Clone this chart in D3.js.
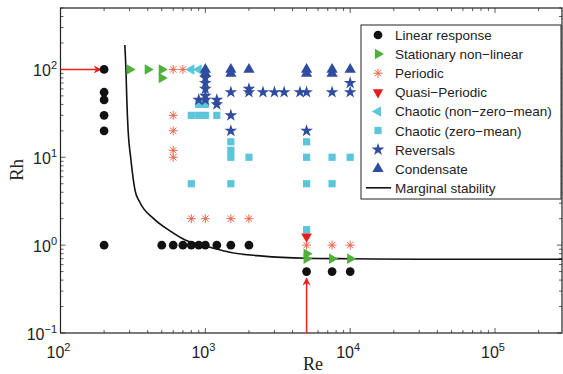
<!DOCTYPE html>
<html>
<head>
<meta charset="utf-8">
<script src="https://cdn.jsdelivr.net/npm/d3@7"></script>
<style>
  body { margin: 0; background: #fff; }
  svg { display: block; }
</style>
</head>
<body>
<div id="chart"></div>
<script>
// points are [Re, Rh]
const linearResponse = [[200,100],[200,55],[200,45],[200,30],[200,20],[200,1],[500,1],[600,1],[700,1],[800,1],[900,1],[1000,1],[1200,1],[1500,1],[2000,1],[5000,0.5],[7500,0.5],[10000,0.5]];
const stationary = [[300,100],[400,100],[500,100],[500,80],[5000,0.8],[5000,0.7],[7500,0.7],[10000,0.7]];
const periodic = [[600,100],[700,100],[600,30],[600,20],[600,12],[600,10],[800,2],[1000,2],[1500,2],[2000,2],[5000,1.3],[5000,1],[7500,1],[10000,1]];
const quasiPeriodic = [[5000,1.25]];
const chaoticNonZero = [[800,100],[900,100]];
const chaoticZero = [[800,30],[900,30],[1000,30],[1200,30],[900,40],[1000,40],[1500,15],[1500,12],[1500,10],[2000,10],[5000,15],[5000,10],[7500,10],[10000,10],[800,5],[1500,5],[5000,5],[7500,5],[5000,1.5]];
const reversals = [[1000,80],[1000,70],[1000,60],[1000,50],[900,45],[1000,45],[1200,45],[1200,40],[1500,55],[1500,30],[1500,20],[2000,60],[2000,55],[2500,55],[3000,55],[3500,55],[4500,55],[5000,55],[5000,20],[7500,55],[10000,55],[10000,70]];
const condensate = [[1000,100],[1000,90],[1500,100],[1500,90],[2000,100],[5000,100],[5000,90],[7500,100],[7500,90],[10000,100]];
const marginal = [[278,190],[283,100],[287,45],[293,20],[305,10],[327,4.2],[352,3.1],[440,2],[570,1.45],[720,1.15],[960,1.0],[1120,0.93],[1470,0.83],[2500,0.75],[5000,0.71],[10000,0.70],[30000,0.69],[290000,0.69]];
const arrows = [[[100,100],[190,100]], [[5000,0.1],[5000,0.42]]];

const xTicks = [1e2, 1e3, 1e4, 1e5];
const yTicks = [1e-1, 1e0, 1e1, 1e2];

const width = 563, height = 374;
const margin = { top: 8, right: 1, bottom: 41, left: 60.5 };

const svg = d3.select("#chart").append("svg")
    .attr("width", width)
    .attr("height", height)
    .style("font-family", "'Liberation Sans', Arial, sans-serif");

const x = d3.scaleLog().domain([100, 2.9e5]).range([margin.left, width - margin.right]);
const y = d3.scaleLog().domain([0.1, 500]).range([height - margin.bottom, margin.top]);

const x0 = x.range()[0], x1 = x.range()[1], y0 = y.range()[0], y1 = y.range()[1];

// minor + major ticks, matlab style pointing inward on all sides
const xAll = x.ticks(), yAll = y.ticks();
const tickG = svg.append("g").attr("stroke", "#333").attr("stroke-width", 0.8);
xAll.forEach(v => {
  const len = xTicks.includes(v) ? 5 : 3;
  tickG.append("line").attr("x1", x(v)).attr("x2", x(v)).attr("y1", y0).attr("y2", y0 - len);
  tickG.append("line").attr("x1", x(v)).attr("x2", x(v)).attr("y1", y1).attr("y2", y1 + len);
});
yAll.forEach(v => {
  const len = yTicks.includes(v) ? 5 : 3;
  tickG.append("line").attr("y1", y(v)).attr("y2", y(v)).attr("x1", x0).attr("x2", x0 + len);
  tickG.append("line").attr("y1", y(v)).attr("y2", y(v)).attr("x1", x1).attr("x2", x1 - len);
});

svg.append("rect")
    .attr("x", x0).attr("y", y1)
    .attr("width", x1 - x0).attr("height", y0 - y1)
    .attr("fill", "none").attr("stroke", "#222").attr("stroke-width", 1.2);

// tick labels 10^n
xTicks.forEach(v => {
  const t = svg.append("text").attr("x", x(v) - 2).attr("y", 358)
      .attr("text-anchor", "middle").attr("font-size", 16).attr("fill", "#222");
  t.append("tspan").text("10");
  t.append("tspan").attr("font-size", 11).attr("dy", -7).text(Math.round(Math.log10(v)));
});
yTicks.forEach(v => {
  const t = svg.append("text").attr("x", 57).attr("y", y(v) + 7)
      .attr("text-anchor", "end").attr("font-size", 16).attr("fill", "#222");
  t.append("tspan").text("10");
  const e = Math.round(Math.log10(v));
  t.append("tspan").attr("font-size", 11).attr("dy", -7).text(e < 0 ? "−" + (-e) : e);
});

svg.append("text").attr("x", 313).attr("y", 370).attr("text-anchor", "middle")
    .attr("font-family", "'Liberation Serif', 'Times New Roman', serif")
    .attr("font-size", 18).attr("fill", "#222").text("Re");
svg.append("text").attr("transform", "translate(23,170) rotate(-90)").attr("text-anchor", "middle")
    .attr("font-family", "'Liberation Serif', 'Times New Roman', serif")
    .attr("font-size", 19).attr("fill", "#222").text("Rh");

// arrows
svg.append("defs").append("marker")
    .attr("id", "head").attr("viewBox", "0 0 10 10")
    .attr("refX", 9).attr("refY", 5)
    .attr("markerWidth", 10).attr("markerHeight", 8)
    .attr("markerUnits", "userSpaceOnUse")
    .attr("orient", "auto")
  .append("path").attr("d", "M0,0 L10,5 L0,10 L3,5 Z").attr("fill", "#e8201a");

const plot = svg.append("g");

arrows.forEach(a => {
  plot.append("line")
      .attr("x1", x(a[0][0])).attr("y1", y(a[0][1]))
      .attr("x2", x(a[1][0])).attr("y2", y(a[1][1]))
      .attr("stroke", "#e8201a").attr("stroke-width", 1.5)
      .attr("marker-end", "url(#head)");
});

// marginal stability curve
plot.append("path")
    .datum(marginal)
    .attr("fill", "none").attr("stroke", "#111").attr("stroke-width", 1.6)
    .attr("d", d3.line().x(d => x(d[0])).y(d => y(d[1])).curve(d3.curveMonotoneX));

const asteriskPath = r => {
  const k = r * Math.SQRT1_2;
  return `M${-r},0L${r},0M0,${-r}L0,${r}M${-k},${-k}L${k},${k}M${-k},${k}L${k},${-k}`;
};

const series = [
  { name: "Linear response", data: linearResponse, type: d3.symbolCircle, size: 60, color: "#111111", rot: 0 },
  { name: "Stationary non−linear", data: stationary, type: d3.symbolTriangle, size: 48, color: "#4fb03a", rot: 90 },
  { name: "Periodic", data: periodic, type: "asterisk", size: 4.5, color: "#f26a4f", rot: 0 },
  { name: "Quasi−Periodic", data: quasiPeriodic, type: d3.symbolTriangle, size: 48, color: "#e41d1d", rot: 180 },
  { name: "Chaotic (non−zero−mean)", data: chaoticNonZero, type: d3.symbolTriangle, size: 48, color: "#5cc5da", rot: -90 },
  { name: "Chaotic (zero−mean)", data: chaoticZero, type: d3.symbolSquare, size: 52, color: "#5cc5da", rot: 0 },
  { name: "Reversals", data: reversals, type: d3.symbolStar, size: 50, color: "#2f4c9f", rot: 0 },
  { name: "Condensate", data: condensate, type: d3.symbolTriangle, size: 55, color: "#2f4c9f", rot: 0 }
];

function drawMarker(g, s) {
  if (s.type === "asterisk") {
    g.append("path").attr("d", asteriskPath(s.size))
      .attr("stroke", s.color).attr("stroke-width", 1).attr("fill", "none");
    g.append("circle").attr("r", 1.2).attr("fill", s.color);
  } else {
    g.append("path").attr("d", d3.symbol().type(s.type).size(s.size)())
      .attr("transform", `rotate(${s.rot})`)
      .attr("fill", s.color);
  }
}

series.forEach(s => {
  plot.selectAll(null)
    .data(s.data)
    .enter()
    .append("g")
    .attr("transform", d => `translate(${x(d[0])},${y(d[1])})`)
    .each(function () { drawMarker(d3.select(this), s); });
});

// legend
const lg = svg.append("g");
lg.append("rect").attr("x", 361).attr("y", 25).attr("width", 200).attr("height", 174)
    .attr("fill", "#fff").attr("stroke", "#222").attr("stroke-width", 1);

const rowY = i => 35 + i * 19.1;
series.forEach((s, i) => {
  const g = lg.append("g").attr("transform", `translate(378,${rowY(i)})`);
  drawMarker(g, s);
  lg.append("text").attr("x", 395).attr("y", rowY(i) + 5)
      .attr("font-size", 13.5).attr("fill", "#222").text(s.name);
});
const lastY = rowY(series.length);
lg.append("line").attr("x1", 366).attr("x2", 391).attr("y1", lastY).attr("y2", lastY)
    .attr("stroke", "#111").attr("stroke-width", 1.6);
lg.append("text").attr("x", 395).attr("y", lastY + 5)
    .attr("font-size", 13.5).attr("fill", "#222").text("Marginal stability");
</script>
</body>
</html>
